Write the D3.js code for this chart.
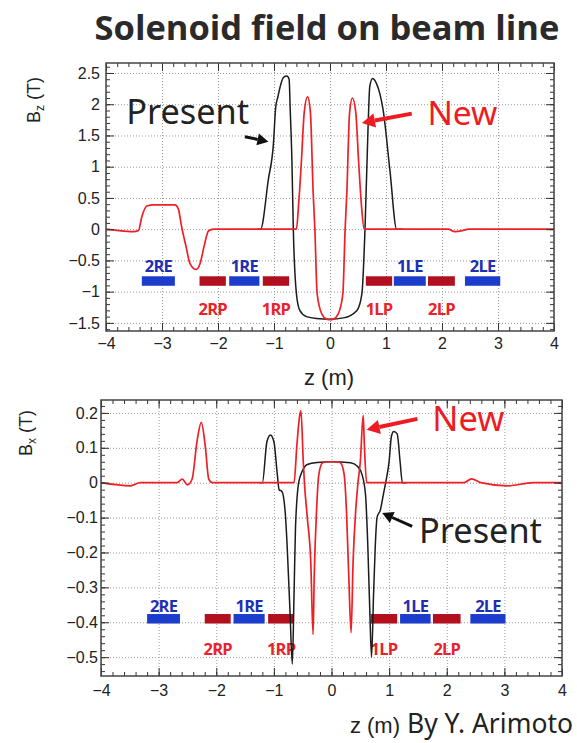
<!DOCTYPE html>
<html>
<head>
<meta charset="utf-8">
<script src="https://cdn.jsdelivr.net/npm/d3@7"></script>
<style>
  body { margin: 0; background: #fff; }
  svg { display: block; }
</style>
</head>
<body>
<svg id="chart" width="577" height="743"></svg>
<script>
// ---- data: [z (m), field (T)] ----
var bzPresent = [[-1.3,0],[-1.24,0],[-1.1,0.8],[-1.01,1.37],[-0.97,1.95],[-0.93,2.12],[-0.89,2.28],[-0.83,2.43],
  [-0.77,2.45],[-0.73,2.4],[-0.71,1.9],[-0.68,1.1],[-0.655,0],[-0.6,-1.03],[-0.54,-1.3],[-0.42,-1.4],
  [-0.24,-1.43],[0,-1.44],[0.24,-1.42],[0.48,-1.3],[0.57,-1.03],[0.625,0],[0.68,1.64],[0.71,2.28],
  [0.76,2.41],[0.83,2.33],[0.89,2.17],[0.95,1.9],[1.07,0.94],[1.19,0],[1.3,0]];

var bzNew = [[-4,0],[-3.81,-0.02],[-3.51,-0.04],[-3.42,-0.02],[-3.36,0.2],[-3.27,0.37],[-3.15,0.39],
  [-2.77,0.39],[-2.71,0.33],[-2.65,0.04],[-2.57,-0.28],[-2.5,-0.55],[-2.39,-0.645],[-2.32,-0.55],
  [-2.25,-0.28],[-2.17,-0.03],[-2.08,0],[-0.6,0],[-0.56,0.4],[-0.51,1.1],[-0.46,1.87],[-0.4,2.12],
  [-0.35,1.87],[-0.3,0.57],[-0.27,0],[-0.23,-1.03],[-0.15,-1.35],[-0.06,-1.44],[0,-1.45],[0.06,-1.44],
  [0.15,-1.35],[0.23,-1.03],[0.27,0],[0.3,0.57],[0.35,1.87],[0.4,2.1],[0.46,1.87],[0.51,1.1],
  [0.56,0.4],[0.61,0],[2.11,0],[2.23,-0.04],[2.38,-0.02],[2.47,0],[4,0]];

var bxPresent = [[-1.25,0],[-1.2,0],[-1.12,0.118],[-1.06,0.137],[-1.0,0.118],[-0.94,0.023],[-0.91,-0.02],
  [-0.86,-0.025],[-0.8,-0.092],[-0.77,-0.18],[-0.72,-0.37],[-0.68,-0.52],[-0.65,-0.32],[-0.625,-0.13],
  [-0.57,0],[-0.51,0.032],[-0.42,0.052],[-0.25,0.058],[0,0.06],[0.33,0.057],[0.45,0.047],[0.53,0.023],
  [0.59,-0.034],[0.63,-0.18],[0.665,-0.37],[0.695,-0.5],[0.73,-0.32],[0.76,-0.18],[0.79,-0.1],
  [0.85,-0.077],[0.9,-0.034],[0.94,0],[1.0,0.061],[1.04,0.133],[1.08,0.147],[1.14,0.14],[1.19,0.061],
  [1.23,0],[1.3,0]];

var bxNew = [[-4,0],[-3.49,-0.009],[-3.32,0],[-2.68,0],[-2.59,0.01],[-2.5,-0.006],[-2.42,0.01],
  [-2.33,0.123],[-2.26,0.173],[-2.19,0.104],[-2.13,0.01],[-2.07,0],[-0.65,0],[-0.6,0.109],[-0.55,0.195],
  [-0.53,0.206],[-0.49,0.061],[-0.47,0],[-0.42,-0.1],[-0.36,-0.225],[-0.32,-0.435],[-0.3,-0.27],
  [-0.26,-0.082],[-0.22,0.023],[-0.16,0.056],[-0.09,0.06],[0.1,0.06],[0.16,0.056],[0.22,0.023],
  [0.26,-0.082],[0.3,-0.27],[0.34,-0.43],[0.375,-0.225],[0.42,-0.08],[0.46,0],[0.5,0.06],[0.55,0.193],
  [0.57,0.109],[0.61,0],[2.3,0],[2.43,0.011],[2.59,0],[3.05,-0.009],[3.5,0],[4,0]];

// magnets: name, z start, z end
var magnetsTop = [["2RE",-3.36,-2.77],["2RP",-2.33,-1.86],["1RE",-1.8,-1.26],["1RP",-1.2,-0.73],
  ["1LP",0.64,1.11],["1LE",1.14,1.71],["2LP",1.75,2.23],["2LE",2.41,3.04]];
var magnetsBottom = [["2RE",-3.2,-2.63],["2RP",-2.2,-1.75],["1RE",-1.7,-1.16],["1RP",-1.1,-0.65],
  ["1LP",0.68,1.14],["1LE",1.19,1.72],["2LP",1.76,2.24],["2LE",2.41,3.02]];

var xTicks = d3.range(-4, 5);
var xMinor = d3.range(-20, 21).map(function(i){ return i/5; });
var bzTicks = d3.range(-3, 6).map(function(i){ return i/2; });
var bzMinor = d3.range(-16, 27).map(function(i){ return i/10; });
var bxTicks = d3.range(-5, 3).map(function(i){ return i/10; });
var bxMinor = d3.range(-27, 12).map(function(i){ return i/50; });

var svg = d3.select("#chart");
var fmt = d3.format("");
var cBlack = "#1b1b1b", cRed = "#ee2026";

svg.append("rect").attr("width", 577).attr("height", 743).attr("fill", "#fff");

function fit(sel, w) {
  var cur = sel.node().getComputedTextLength();
  sel.attr("font-size", parseFloat(sel.attr("font-size")) * w / cur);
}

function panel(p) {
  var x = d3.scaleLinear().domain([-4, 4]).range(p.xr);
  var y = d3.scaleLinear().domain(p.yd).range(p.yr);
  var w = p.xr[1] - p.xr[0], h = p.yr[0] - p.yr[1];
  var g = svg.append("g");

  // dotted grid
  g.append("g").attr("transform", "translate(0," + p.yr[0] + ")")
      .call(d3.axisBottom(x).tickValues(xTicks).tickSize(-h).tickFormat(""))
      .call(function(a){ a.select(".domain").remove(); });
  g.append("g").attr("transform", "translate(" + p.xr[0] + ",0)")
      .call(d3.axisLeft(y).tickValues(p.ticks).tickSize(-w).tickFormat(""))
      .call(function(a){ a.select(".domain").remove(); });
  g.selectAll(".tick line").attr("stroke", "#9a9a9a").attr("stroke-dasharray", "1,2");

  // magnets
  var barH = 9.5, yb = y(p.level);
  p.magnets.forEach(function(m) {
    var isE = m[0].indexOf("E") > 0;
    g.append("rect")
        .attr("x", x(m[1])).attr("y", yb - barH/2)
        .attr("width", x(m[2]) - x(m[1])).attr("height", barH)
        .attr("fill", isE ? "#1c3ccc" : "#b3101f");
    g.append("text")
        .attr("x", (x(m[1]) + x(m[2])) / 2)
        .attr("y", isE ? yb - barH/2 - p.eGap : yb + barH/2 + p.pGap)
        .attr("text-anchor", "middle")
        .attr("font-family", "Open Sans").attr("font-weight", "bold").attr("font-size", 16.5)
        .attr("letter-spacing", -0.8)
        .attr("fill", isE ? "#1e2fb5" : "#e8232b")
        .text(m[0]);
  });

  var line = d3.line().curve(d3.curveMonotoneX)
      .x(function(d){ return x(d[0]); })
      .y(function(d){ return y(d[1]); });
  g.append("path").datum(p.present).attr("fill", "none").attr("stroke", cBlack)
      .attr("stroke-width", 1.5).attr("stroke-linejoin", "round").attr("d", line);
  g.append("path").datum(p.fresh).attr("fill", "none").attr("stroke", cRed)
      .attr("stroke-width", 1.7).attr("stroke-linejoin", "round").attr("d", line);

  // ticks on all four sides, pointing in
  function ticks(axis, tr, vals, size, labels) {
    var a = g.append("g").attr("transform", tr)
        .call(axis.tickValues(vals).tickSize(size).tickPadding(p.pad)
          .tickFormat(labels ? function(d){ return fmt(d); } : ""));
    a.select(".domain").remove();
    a.selectAll("line").attr("stroke", "#333");
    a.selectAll("text").attr("font-family", "Liberation Sans").attr("font-size", 16).attr("fill", "#222");
    return a;
  }
  ticks(d3.axisBottom(x), "translate(0," + p.yr[0] + ")", xTicks, -8, true)
      .selectAll("text").attr("dy", "0.71em").attr("y", p.xPad);
  ticks(d3.axisBottom(x), "translate(0," + p.yr[0] + ")", xMinor, -4, false);
  ticks(d3.axisTop(x), "translate(0," + p.yr[1] + ")", xTicks, -8, false);
  ticks(d3.axisTop(x), "translate(0," + p.yr[1] + ")", xMinor, -4, false);
  ticks(d3.axisLeft(y), "translate(" + p.xr[0] + ",0)", p.ticks, -8, true);
  ticks(d3.axisLeft(y), "translate(" + p.xr[0] + ",0)", p.minor, -4, false);
  ticks(d3.axisRight(y), "translate(" + p.xr[1] + ",0)", p.ticks, -8, false);
  ticks(d3.axisRight(y), "translate(" + p.xr[1] + ",0)", p.minor, -4, false);

  g.append("rect").attr("x", p.xr[0]).attr("y", p.yr[1]).attr("width", w).attr("height", h)
      .attr("fill", "none").attr("stroke", "#444").attr("stroke-width", 1.5);

  // axis titles
  var yt = g.append("text")
      .attr("transform", "translate(" + p.yTitle[0] + "," + p.yTitle[1] + ") rotate(-90)")
      .attr("text-anchor", "end")
      .attr("font-family", "Liberation Sans").attr("font-size", 18).attr("fill", "#222");
  yt.append("tspan").text("B");
  yt.append("tspan").attr("font-size", 12).attr("dy", 4).text(p.sub);
  yt.append("tspan").attr("dy", -4).text(" (T)");
  g.append("text").attr("x", p.zTitle[0]).attr("y", p.zTitle[1]).attr("text-anchor", p.zAnchor)
      .attr("font-family", "Liberation Sans").attr("font-size", p.zSize).attr("fill", "#222")
      .text("z (m)");

  // annotations
  function arrow(a, color, sw, head) {
    var x1 = x(a[0]), y1 = y(a[1]), x2 = x(a[2]), y2 = y(a[3]);
    var ang = Math.atan2(y2 - y1, x2 - x1);
    var bx = x2 - head * Math.cos(ang), by = y2 - head * Math.sin(ang);
    g.append("line").attr("x1", x1).attr("y1", y1).attr("x2", bx).attr("y2", by)
        .attr("stroke", color).attr("stroke-width", sw);
    var hw = head * 0.55;
    g.append("path")
        .attr("d", "M" + x2 + "," + y2 +
          "L" + (bx + hw * Math.sin(ang)) + "," + (by - hw * Math.cos(ang)) +
          "L" + (bx - hw * Math.sin(ang)) + "," + (by + hw * Math.cos(ang)) + "Z")
        .attr("fill", color);
  }
  arrow(p.presentArrow, "#111", 3, 11);
  arrow(p.newArrow, "#ee1c22", 4, 13);
  fit(g.append("text").attr("x", x(p.presentText[0])).attr("y", y(p.presentText[1]))
      .attr("font-family", "Noto Sans").attr("font-size", 33).attr("fill", "#222").text("Present"), 123);
  fit(g.append("text").attr("x", x(p.newText[0])).attr("y", y(p.newText[1]))
      .attr("font-family", "Noto Sans").attr("font-size", 32).attr("fill", "#ee1c22").text("New"), p.newW);
}

panel({
  xr: [106, 554], yr: [331, 63], yd: [-1.63, 2.66],
  ticks: bzTicks, minor: bzMinor, pad: 6, xPad: 7,
  present: bzPresent, fresh: bzNew,
  magnets: magnetsTop, level: -0.83, eGap: 4, pGap: 29,
  sub: "z", yTitle: [40, 77], zTitle: [329, 385], zAnchor: "middle", zSize: 22,
  presentArrow: [-1.52, 1.48, -1.10, 1.40], newArrow: [1.46, 1.85, 0.57, 1.70],
  presentText: [-3.64, 1.69], newText: [1.74, 1.66], newW: 70
});

panel({
  xr: [101, 562], yr: [676, 400], yd: [-0.554, 0.237],
  ticks: bxTicks, minor: bxMinor, pad: 3, xPad: 9,
  present: bxPresent, fresh: bxNew,
  magnets: magnetsBottom, level: -0.39, eGap: 2, pGap: 31,
  sub: "x", yTitle: [32, 410], zTitle: [400, 733], zAnchor: "end", zSize: 22,
  presentArrow: [1.40, -0.125, 0.88, -0.087], newArrow: [1.49, 0.183, 0.61, 0.152],
  presentText: [1.52, -0.173], newText: [1.75, 0.147], newW: 72
});

var title = svg.append("text").attr("x", 327).attr("y", 40).attr("text-anchor", "middle")
    .attr("font-family", "Open Sans").attr("font-weight", "bold").attr("font-size", 32)
    .attr("fill", "#2a2a2a").text("Solenoid field on beam line");
fit(title, 465);

var by = svg.append("text").attr("x", 407).attr("y", 733)
    .attr("font-family", "Noto Sans").attr("font-size", 28).attr("fill", "#222")
    .text("By Y. Arimoto");
fit(by, 166);
</script>
</body>
</html>
